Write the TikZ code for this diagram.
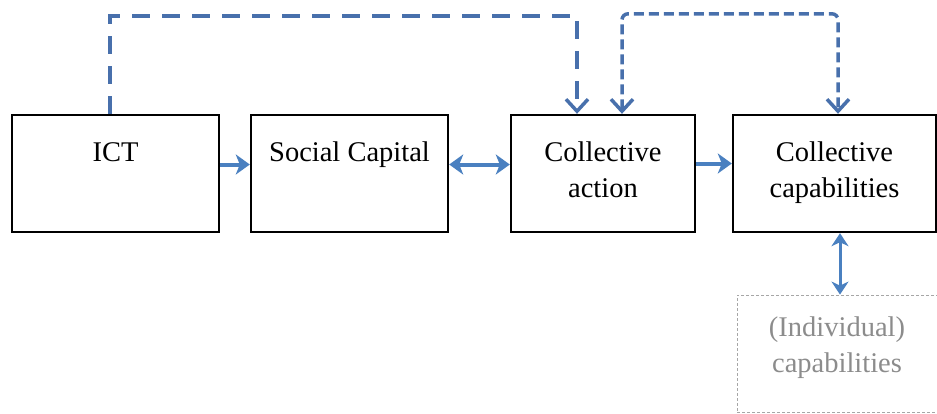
\documentclass[tikz,border=0pt]{standalone}
\usepackage{fontspec}
\setmainfont{Liberation Serif}
\usetikzlibrary{arrows.meta}

\definecolor{linkblue}{RGB}{74,128,192}
\definecolor{loopblue}{RGB}{72,112,172}

\begin{document}
\begin{tikzpicture}[x=1pt,y=-1pt,
    box/.style={draw=black,line width=2.4pt,inner xsep=4pt,inner ysep=0pt,
      minimum height=117pt,text height=46pt,text depth=71pt,align=center,
      font=\fontsize{28.5}{36}\selectfont},
    twoline/.style={text height=82pt,text depth=35pt},
    link/.style={draw=linkblue,line width=4pt,
      -{Stealth[length=14pt,width=20pt,inset=4pt]}},
    loopline/.style={draw=loopblue,line width=3.5pt,
      -{Straight Barb[length=12pt,width=22pt,line width=3.5pt]}}
  ]
  \useasboundingbox (0,0) rectangle (937,413);

  % main chain
  \node[box,minimum width=207pt] (ict) at (115.5,173.5) {ICT};
  \node[box,minimum width=197pt] (social) at (349.5,173.5) {Social Capital};
  \node[box,twoline,minimum width=184pt] (action) at (603,173.5) {Collective\\action};
  \node[box,twoline,minimum width=203pt] (collcap) at (834.5,173.5) {Collective\\capabilities};
  \node[box,minimum width=200pt,draw=gray!70,line width=0.8pt,
    dash pattern=on 3pt off 2pt,text=gray!90,text height=77pt,text depth=40pt]
    (indcap) at (837,353.5) {(Individual)\\capabilities};

  \draw[link] ([yshift=9pt]ict.east) -- ([yshift=9pt]social.west);
  \draw[link,{Stealth[length=14pt,width=20pt,inset=4pt]}-{Stealth[length=14pt,width=20pt,inset=4pt]}]
    ([yshift=9pt]social.east) -- ([yshift=9pt]action.west);
  \draw[link] ([yshift=10pt]action.east) -- ([yshift=10pt]collcap.west);
  \draw[link,line width=3pt,{Stealth[length=13pt,width=17pt,inset=4pt]}-{Stealth[length=13pt,width=17pt,inset=4pt]}]
    ([xshift=5.5pt]collcap.south) -- ([xshift=3pt]indcap.north);

  % feedback loops
  \draw[loopline,dash pattern=on 18pt off 12pt]
    ([xshift=-5.5pt]ict.north) -- ++(0,-98) -| ([xshift=-26pt]action.north);
  \draw[loopline,dash pattern=on 10pt off 5pt,rounded corners=6pt,
    {Straight Barb[length=12pt,width=22pt,line width=3.5pt]}-{Straight Barb[length=12pt,width=22pt,line width=3.5pt]}]
    ([xshift=19pt]action.north) -- ++(0,-100) -| ([xshift=3.5pt]collcap.north);
\end{tikzpicture}
\end{document}
